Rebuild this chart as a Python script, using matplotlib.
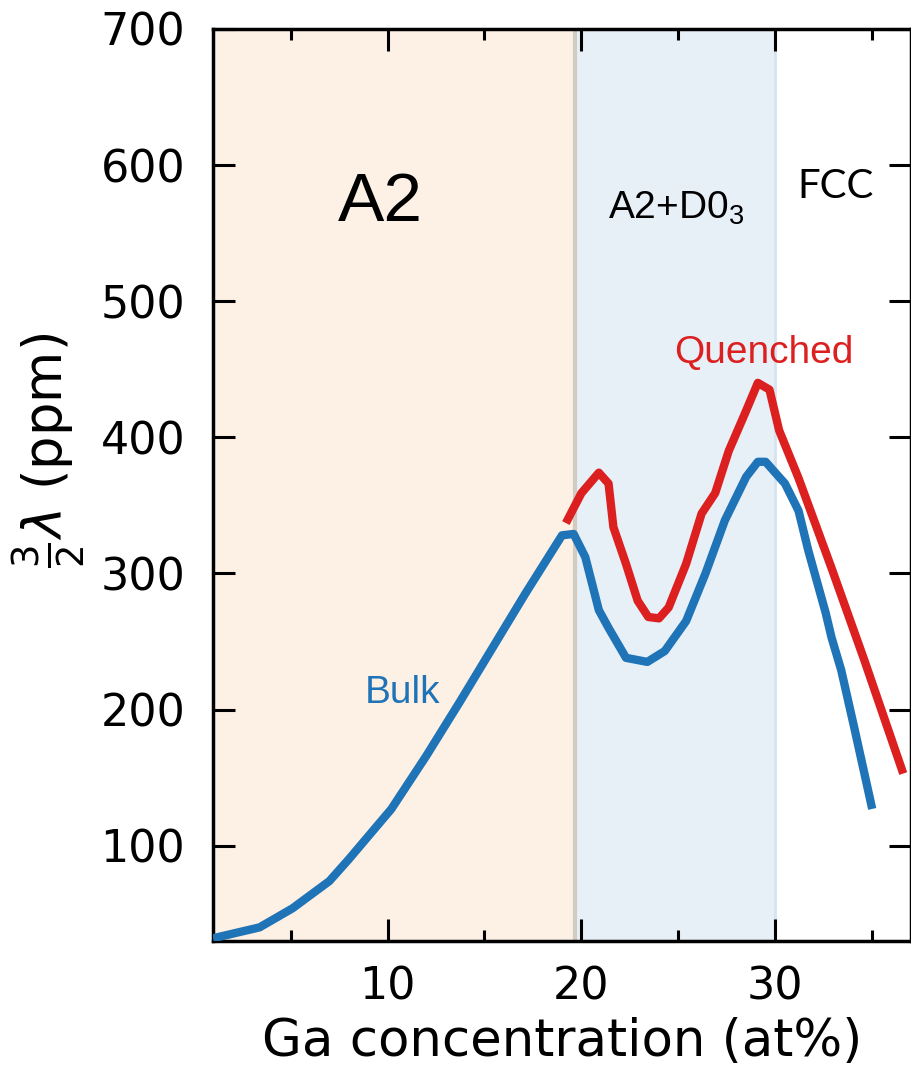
import matplotlib
matplotlib.use("Agg")
import matplotlib.pyplot as plt
from matplotlib.ticker import MultipleLocator

plt.rcParams["font.family"] = ["DejaVu Sans"]
plt.rcParams["mathtext.fontset"] = "custom"
plt.rcParams["mathtext.rm"] = "Liberation Sans"

# Bulk magnetostriction vs Ga content
bulk_ga = [1.0, 3.4, 5.1, 7.0, 8.0, 10.2, 12.0, 13.7, 15.4, 17.1, 19.0, 19.6,
           20.2, 20.9, 21.4, 22.3, 23.4, 24.3, 25.4, 26.4, 27.4, 28.5, 29.1,
           29.5, 30.5, 31.2, 31.7, 32.6, 32.9, 33.4, 34.1, 35.0]
bulk_lam = [32, 40, 54, 74, 90, 127, 166, 205, 245, 285, 328, 329,
            312, 273, 260, 238, 235, 243, 265, 300, 339, 371, 382,
            382, 366, 346, 317, 271, 253, 229, 185, 127]

# Quenched samples
quen_ga = [19.2, 20.0, 20.9, 21.4, 21.65, 22.3, 22.9, 23.45, 24.0, 24.5,
           25.4, 26.2, 26.9, 27.6, 28.45, 29.1, 29.7, 30.2, 31.2, 32.9,
           34.6, 36.6]
quen_lam = [337, 359, 374, 366, 334, 307, 280, 268, 267, 275,
            307, 344, 359, 390, 418, 440, 435, 405, 370, 304,
            236, 153]

# phase regions (at% Ga)
a2_end = 19.65
d03_end = 30.0

blue = "#1f73b7"
red = "#dc1f1f"

fig = plt.figure(figsize=(9.12, 10.71), dpi=100)
ax = fig.add_axes([0.2336, 0.1214, 0.7653, 0.8516])

ax.axvspan(0, a2_end, color="#fdf1e5", lw=0, zorder=0)
ax.axvspan(a2_end, d03_end, color="#e7eff7", lw=0, zorder=0)
ax.axvline(a2_end, color="#d2cbc4", lw=3, zorder=1)
ax.axvline(d03_end, color="#d6e4f1", lw=2, zorder=1)

ax.plot(bulk_ga, bulk_lam, color=blue, lw=6, solid_joinstyle="round",
        solid_capstyle="butt", zorder=3)
ax.plot(quen_ga, quen_lam, color=red, lw=6, solid_joinstyle="round",
        solid_capstyle="butt", zorder=3)

ax.set_xlim(1, 37)
ax.set_ylim(30, 700)
ax.xaxis.set_major_locator(MultipleLocator(10))
ax.xaxis.set_minor_locator(MultipleLocator(5))
ax.set_yticks([100, 200, 300, 400, 500, 600, 700])

ax.tick_params(which="both", direction="in", top=True, right=True, width=2.2)
ax.tick_params(which="major", length=16, labelsize=32, pad=20)
ax.tick_params(which="minor", length=8)
ax.tick_params(axis="x", which="major", pad=18)
for sp in ax.spines.values():
    sp.set_linewidth(2.5)

ax.set_xlabel("Ga concentration (at%)", fontsize=37, labelpad=6)
ax.set_ylabel(r"$\frac{3}{2}\lambda$ (ppm)", fontsize=38, math_fontfamily="dejavusans")
ax.yaxis.set_label_coords(-0.18, 0.538)

ax.text(9.64, 572, "A2", fontsize=50, family="Liberation Sans",
        ha="center", va="center")
ax.text(24.9, 568, r"A2+D0$_\mathregular{3}$", fontsize=28, family="Liberation Sans",
        ha="center", va="center")
ax.text(33.1, 584, "FCC", fontsize=29, family="Lato", ha="center", va="center")
ax.text(29.4, 462, "Quenched", fontsize=28, family="Liberation Sans", color=red,
        ha="center", va="center")
ax.text(10.77, 212, "Bulk", fontsize=28, family="Liberation Sans", color=blue,
        ha="center", va="center")

fig.savefig("out.png", dpi=100)
